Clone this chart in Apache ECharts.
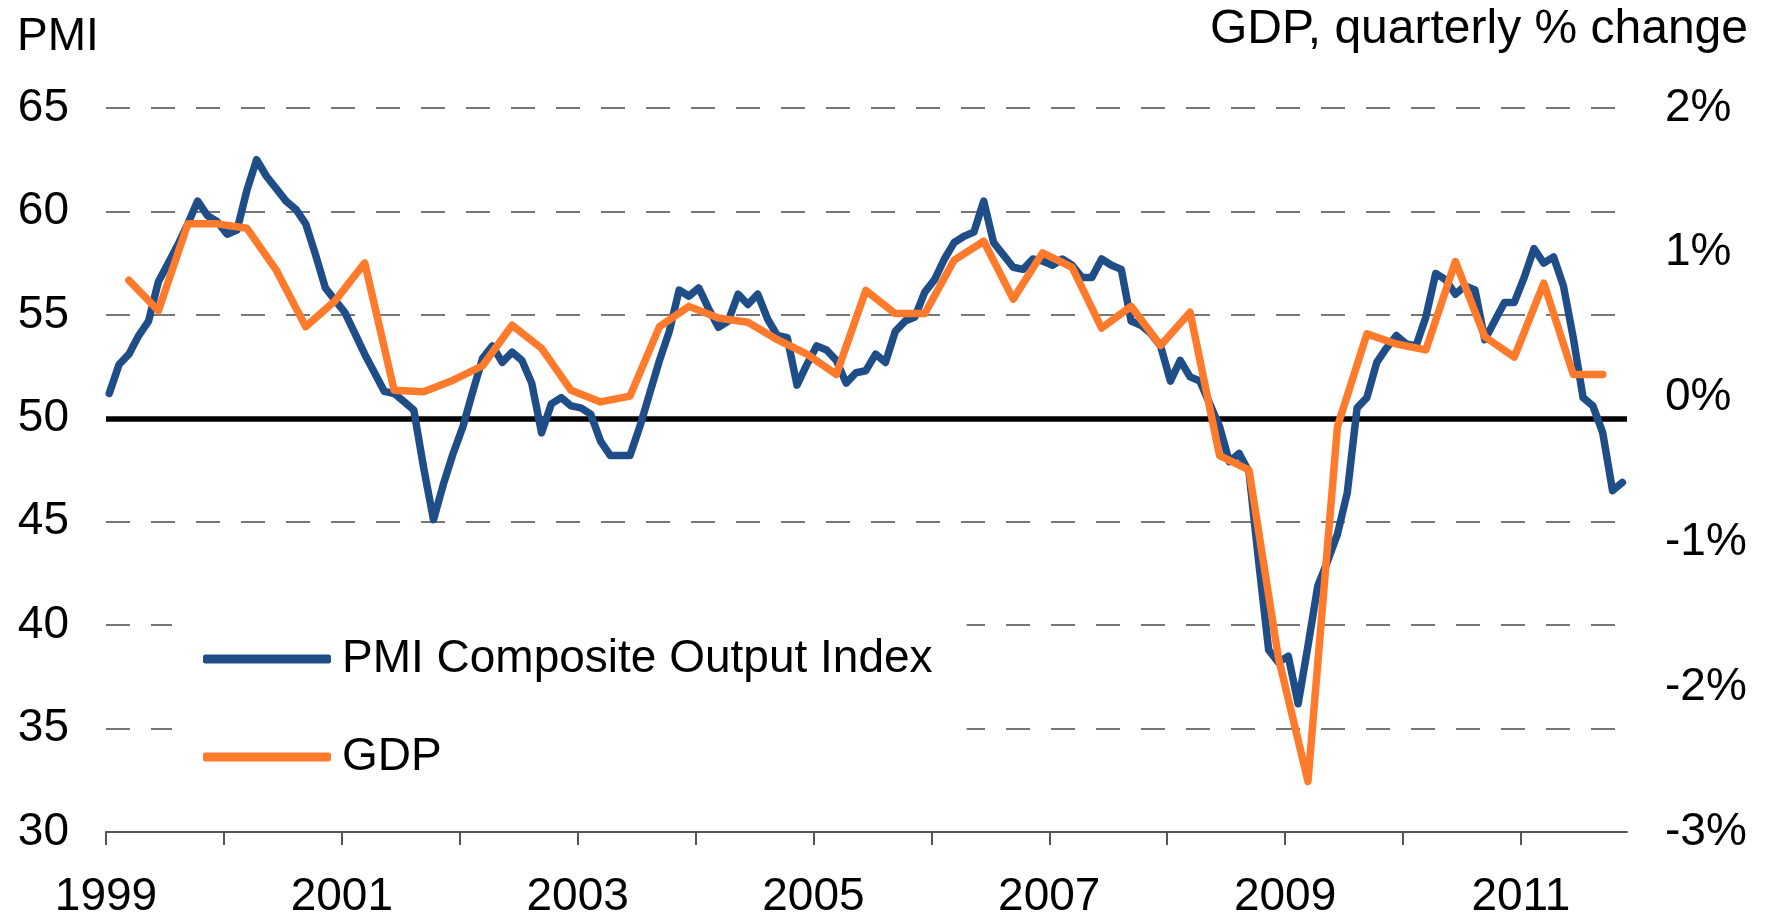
<!DOCTYPE html>
<html>
<head>
<meta charset="utf-8">
<title>PMI Composite Output Index vs GDP</title>
<script src="https://cdn.jsdelivr.net/npm/echarts@6/dist/echarts.min.js"></script>
<style>
  html, body { margin: 0; padding: 0; background: #fff; }
  #chart { width: 1766px; height: 920px; }
</style>
</head>
<body>
<div id="chart"></div>
<script>
const startYear = 1999;

// PMI composite output index, monthly, Jan 1999 - Nov 2011
const pmi = [
  51.2, 52.6, 53.1, 54.0, 54.7, 56.6, 57.5, 58.4, 59.4, 60.5, 59.8, 59.5, // 1999
  58.9, 59.1, 61.0, 62.5, 61.7, 61.1, 60.5, 60.1, 59.4, 57.9, 56.3, 55.7, // 2000
  55.1, 54.1, 53.1, 52.2, 51.3, 51.2, 50.8, 50.4, 47.6, 45.1, 46.8, 48.3, // 2001
  49.6, 51.3, 52.9, 53.5, 52.7, 53.2, 52.8, 51.7, 49.3, 50.7, 51.0, 50.6, // 2002
  50.5, 50.2, 48.9, 48.2, 48.2, 48.2, 49.6, 51.2, 52.8, 54.2, 56.2, 55.9, // 2003
  56.3, 55.3, 54.4, 54.7, 56.0, 55.5, 56.0, 54.8, 54.0, 53.9, 51.6, 52.6, // 2004
  53.5, 53.3, 52.8, 51.7, 52.2, 52.3, 53.1, 52.7, 54.2, 54.7, 54.9, 56.1, // 2005
  56.7, 57.7, 58.5, 58.8, 59.0, 60.5, 58.5, 57.9, 57.3, 57.2, 57.7, 57.6, // 2006
  57.4, 57.7, 57.4, 56.8, 56.8, 57.7, 57.4, 57.2, 54.7, 54.5, 54.1, 53.5, // 2007
  51.8, 52.8, 52.0, 51.8, 50.7, 49.6, 47.9, 48.3, 47.4, 43.0, 38.8, 38.2, // 2008
  38.5, 36.2, 39.0, 41.9, 43.1, 44.4, 46.4, 50.5, 51.0, 52.7, 53.4, 54.0, // 2009
  53.6, 53.5, 54.9, 57.0, 56.7, 56.0, 56.4, 56.2, 53.8, 54.7, 55.6, 55.6, // 2010
  56.8, 58.2, 57.5, 57.8, 56.4, 53.9, 51.0, 50.6, 49.3, 46.5, 46.9        // 2011
];

// GDP, quarterly % change, Q1 1999 - Q3 2011
const gdp = [
  0.81, 0.60, 1.20, 1.20,
  1.17, 0.88, 0.49, 0.67,
  0.93, 0.05, 0.04, 0.12,
  0.22, 0.50, 0.34, 0.05,
  -0.03, 0.01, 0.49, 0.63,
  0.55, 0.52, 0.40, 0.30,
  0.16, 0.74, 0.58, 0.58,
  0.95, 1.08, 0.68, 1.00,
  0.90, 0.48, 0.63, 0.36,
  0.59, -0.40, -0.50, -1.80,
  -2.65, -0.20, 0.44, 0.37,
  0.33, 0.94, 0.42, 0.28,
  0.79, 0.16, 0.16
];

const tickYears = [1999, 2000, 2001, 2002, 2003, 2004, 2005, 2006, 2007, 2008, 2009, 2010, 2011];
const labelYears = [1999, 2001, 2003, 2005, 2007, 2009, 2011];

// month index -> decimal year (points sit a little after the start of the month)
const toYear = (month) => startYear + (month + 0.33) / 12;
const pmiData = pmi.map((v, i) => [toYear(i), v]);
// quarters are plotted at their last month
const gdpData = gdp.map((v, q) => [toYear(q * 3 + 2), v]);

const font = "'Liberation Sans', Arial, sans-serif";
const blue = '#1F4D87';
const orange = '#FF7A2B';
const big = { fontSize: 46, color: '#000', fontFamily: font, fontWeight: 'normal' };

const chart = echarts.init(document.getElementById('chart'));

chart.setOption({
  animation: false,
  textStyle: { fontFamily: font },
  title: [
    { text: 'PMI', left: 17, top: 14, padding: 0, textStyle: big },
    {
      text: 'GDP, quarterly % change', right: 18, top: 6, padding: 0,
      textStyle: Object.assign({}, big, { fontSize: 48 })
    }
  ],
  legend: {
    orient: 'vertical',
    left: 172,
    top: 612,
    backgroundColor: '#fff',
    padding: [22, 34, 22, 31],
    itemWidth: 128,
    itemHeight: 9,
    itemGap: 48,
    icon: 'roundRect',
    textStyle: Object.assign({}, big, { lineHeight: 50, padding: [0, 0, 0, 6] }),
    data: ['PMI Composite Output Index', 'GDP']
  },
  grid: { left: 106, right: 139, top: 108, bottom: 88, outerBoundsMode: 'none' },
  xAxis: {
    type: 'value',
    min: 1999,
    max: 2011.9,
    axisLine: { onZero: false, lineStyle: { color: '#555', width: 2 } },
    axisTick: { customValues: tickYears, length: 13, lineStyle: { color: '#555', width: 2 } },
    axisLabel: Object.assign({}, big, {
      customValues: labelYears,
      margin: 42,
      formatter: (v) => String(v)
    }),
    splitLine: { show: false }
  },
  yAxis: [
    {
      type: 'value',
      min: 30,
      max: 65,
      interval: 5,
      axisLine: { show: false },
      axisTick: { show: false },
      axisLabel: Object.assign({}, big, { margin: 37 }),
      splitLine: { lineStyle: { type: [24, 21], color: '#4a4a4a', width: 1.5 } }
    },
    {
      type: 'value',
      position: 'right',
      min: -3,
      max: 2,
      interval: 1,
      axisLine: { show: false },
      axisTick: { show: false },
      axisLabel: Object.assign({}, big, { margin: 38, formatter: '{value}%' }),
      splitLine: { show: false }
    }
  ],
  series: [
    {
      name: 'PMI Composite Output Index',
      type: 'line',
      data: pmiData,
      symbol: 'none',
      z: 3,
      itemStyle: { color: blue },
      lineStyle: { color: blue, width: 7.5, join: 'round', cap: 'round' },
      markLine: {
        silent: true,
        z: 2,
        symbol: 'none',
        label: { show: false },
        lineStyle: { color: '#000', width: 5.5, type: 'solid' },
        data: [{ yAxis: 50 }]
      }
    },
    {
      name: 'GDP',
      type: 'line',
      yAxisIndex: 1,
      data: gdpData,
      symbol: 'none',
      z: 4,
      itemStyle: { color: orange },
      lineStyle: { color: orange, width: 7.5, join: 'round', cap: 'round' }
    }
  ]
});
</script>
</body>
</html>
